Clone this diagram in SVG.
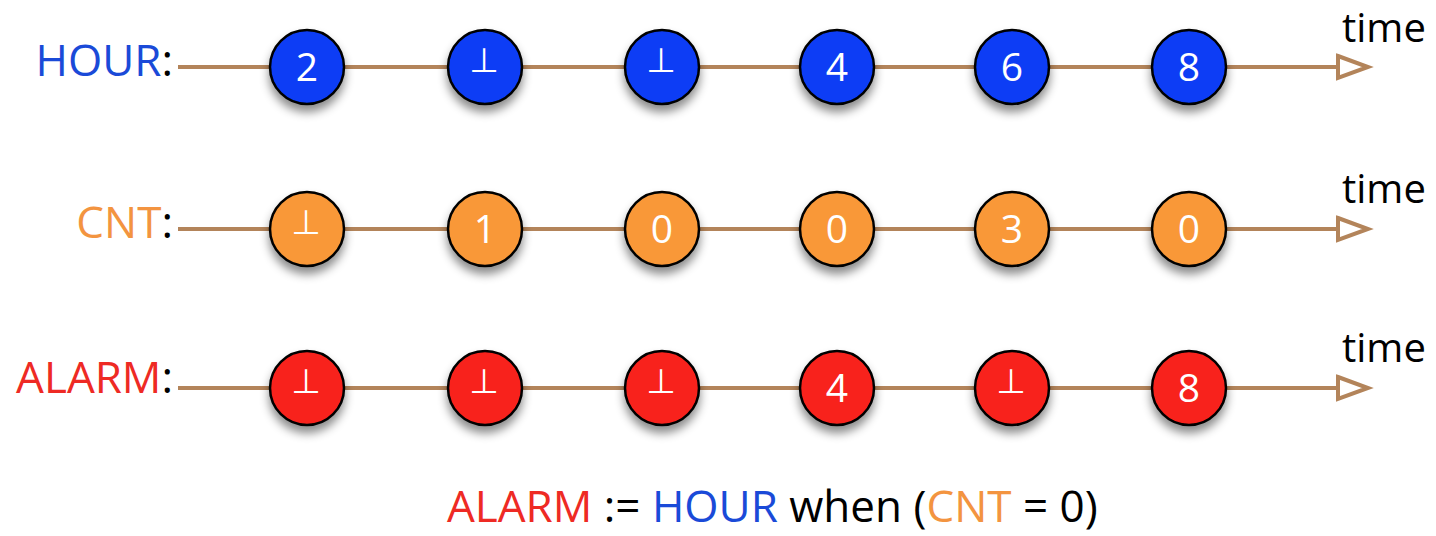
<svg xmlns="http://www.w3.org/2000/svg" width="1436" height="536" viewBox="0 0 1436 536">
<defs>
  <filter id="sh" x="-40%" y="-40%" width="180%" height="190%">
    <feDropShadow dx="0" dy="7" stdDeviation="5" flood-color="#000" flood-opacity="0.45"/>
  </filter>
  <polygon id="ah" points="-30,-11 0,0 -30,11" />
</defs>
<style>
  .axis { stroke: #B3845A; stroke-width: 4; fill: none; }
  .ah { stroke: #B3845A; stroke-width: 4; fill: #fff; stroke-linejoin: miter; }
  .lbl { font-family: "Open Sans", "Liberation Sans", sans-serif; font-size: 44px; }
  .time { font-family: "Open Sans", "Liberation Sans", sans-serif; font-size: 40px; fill: #000; }
  .c { stroke: #000; stroke-width: 2.5; filter: url(#sh); }
  .b { fill: #0A3CF5; }
  .o { fill: #F99838; }
  .r { fill: #F8221C; }
  .num { font-family: "Open Sans", "Liberation Sans", sans-serif; font-size: 39px; fill: #fff; text-anchor: middle; }
  .bot { font-family: "DejaVu Sans", sans-serif; font-size: 34px; fill: #fff; text-anchor: middle; }
  .blue { fill: #1A4AD8; }
  .orange { fill: #F39440; }
  .red { fill: #EE2A24; }
  .blk { fill: #000; }
</style>

<g id="connectors">
  <line class="axis" x1="178" y1="67" x2="1338" y2="67"/>
  <use href="#ah" class="ah" x="1368" y="67"/>
  <line class="axis" x1="178" y1="229" x2="1338" y2="229"/>
  <use href="#ah" class="ah" x="1368" y="229"/>
  <line class="axis" x1="178" y1="388" x2="1338" y2="388"/>
  <use href="#ah" class="ah" x="1368" y="388"/>
</g>

<g id="labels">
  <text class="lbl" x="173" y="76" text-anchor="end"><tspan class="blue">HOUR</tspan><tspan class="blk">:</tspan></text>
  <text class="lbl" x="173" y="238" text-anchor="end"><tspan class="orange">CNT</tspan><tspan class="blk">:</tspan></text>
  <text class="lbl" x="173" y="393" text-anchor="end"><tspan class="red">ALARM</tspan><tspan class="blk">:</tspan></text>
  <text class="time" x="1342" y="42">time</text>
  <text class="time" x="1342" y="203">time</text>
  <text class="time" x="1342" y="362">time</text>
</g>

<g id="hour">
  <g id="h1"><circle class="c b" cx="307" cy="67" r="37"/><text class="num" x="307" y="81">2</text></g>
  <g id="h2"><circle class="c b" cx="485" cy="67" r="37"/><text class="bot" x="484" y="72">⊥</text></g>
  <g id="h3"><circle class="c b" cx="662" cy="67" r="37"/><text class="bot" x="661" y="72">⊥</text></g>
  <g id="h4"><circle class="c b" cx="837" cy="67" r="37"/><text class="num" x="837" y="81">4</text></g>
  <g id="h5"><circle class="c b" cx="1012" cy="67" r="37"/><text class="num" x="1012" y="81">6</text></g>
  <g id="h6"><circle class="c b" cx="1189" cy="67" r="37"/><text class="num" x="1189" y="81">8</text></g>
</g>

<g id="cnt">
  <g id="c1"><circle class="c o" cx="307" cy="229" r="37"/><text class="bot" x="306" y="234">⊥</text></g>
  <g id="c2"><circle class="c o" cx="485" cy="229" r="37"/><text class="num" x="485" y="243">1</text></g>
  <g id="c3"><circle class="c o" cx="662" cy="229" r="37"/><text class="num" x="662" y="243">0</text></g>
  <g id="c4"><circle class="c o" cx="837" cy="229" r="37"/><text class="num" x="837" y="243">0</text></g>
  <g id="c5"><circle class="c o" cx="1012" cy="229" r="37"/><text class="num" x="1012" y="243">3</text></g>
  <g id="c6"><circle class="c o" cx="1189" cy="229" r="37"/><text class="num" x="1189" y="243">0</text></g>
</g>

<g id="alarm">
  <g id="a1"><circle class="c r" cx="307" cy="388" r="37"/><text class="bot" x="306" y="393">⊥</text></g>
  <g id="a2"><circle class="c r" cx="485" cy="388" r="37"/><text class="bot" x="484" y="393">⊥</text></g>
  <g id="a3"><circle class="c r" cx="662" cy="388" r="37"/><text class="bot" x="661" y="393">⊥</text></g>
  <g id="a4"><circle class="c r" cx="837" cy="388" r="37"/><text class="num" x="837" y="402">4</text></g>
  <g id="a5"><circle class="c r" cx="1012" cy="388" r="37"/><text class="bot" x="1011" y="393">⊥</text></g>
  <g id="a6"><circle class="c r" cx="1189" cy="388" r="37"/><text class="num" x="1189" y="402">8</text></g>
</g>

<g id="formula">
  <text class="lbl" x="447" y="522"><tspan class="red">ALARM</tspan><tspan class="blk"> := </tspan><tspan class="blue">HOUR</tspan><tspan class="blk"> when (</tspan><tspan class="orange">CNT</tspan><tspan class="blk"> = 0)</tspan></text>
</g>
</svg>
